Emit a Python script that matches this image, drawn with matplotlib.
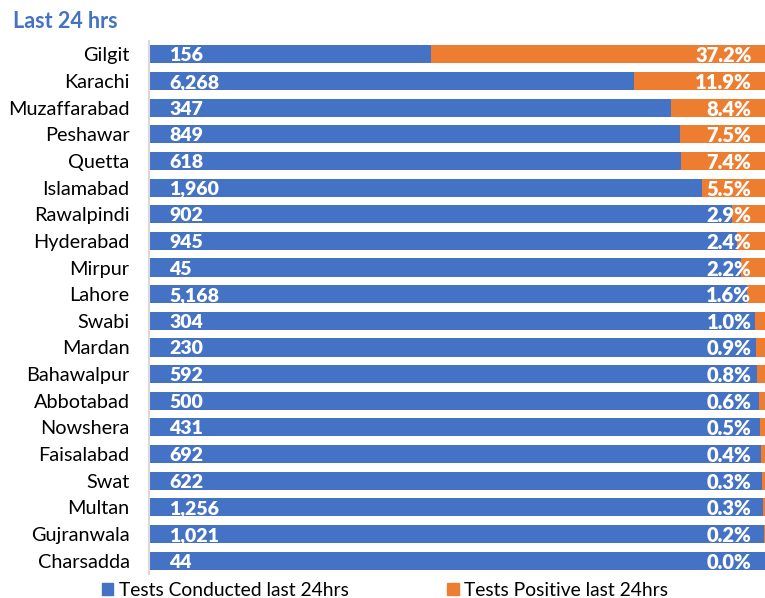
# -*- coding: utf-8 -*-
import matplotlib
matplotlib.use('Agg')
import matplotlib.pyplot as plt
from matplotlib.patches import Patch

### data
cities = ['Gilgit', 'Karachi', 'Muzaffarabad', 'Peshawar', 'Quetta',
          'Islamabad', 'Rawalpindi', 'Hyderabad', 'Mirpur', 'Lahore',
          'Swabi', 'Mardan', 'Bahawalpur', 'Abbotabad', 'Nowshera',
          'Faisalabad', 'Swat', 'Multan', 'Gujranwala', 'Charsadda']
tests = [156, 6268, 347, 849, 618, 1960, 902, 945, 45, 5168,
         304, 230, 592, 500, 431, 692, 622, 1256, 1021, 44]
pos_pct = [37.2, 11.9, 8.4, 7.5, 7.4, 5.5, 2.9, 2.4, 2.2, 1.6,
           1.0, 0.9, 0.8, 0.6, 0.5, 0.4, 0.3, 0.3, 0.2, 0.0]
# share of the bar length taken by the orange part (%), as drawn
pos_share = [54.2, 21.2, 15.3, 13.8, 13.6, 10.2, 5.4, 4.6, 3.9, 3.0,
             1.6, 1.5, 1.35, 1.0, 0.8, 0.6, 0.45, 0.3, 0.2, 0.0]

c_blue = '#4472C4'
c_orange = '#ED7D31'
font = 'Lato'

plt.rcParams['font.family'] = [font, 'DejaVu Sans']

W, H = 765, 598
fig = plt.figure(figsize=(W/100, H/100), dpi=100)
ax = fig.add_axes([149/W, (H-574)/H, (W-149)/W, (574-41)/H])

ypos = list(range(len(cities)))
neg_share = [100 - s for s in pos_share]
ax.barh(ypos, neg_share, height=0.68, color=c_blue, edgecolor='none')
ax.barh(ypos, pos_share, left=neg_share, height=0.68, color=c_orange,
        edgecolor='none')

### value labels inside the bars
for y, n, p in zip(ypos, tests, pos_pct):
    ax.text(3.3, y, f'{n:,}', color='white', fontsize=14,
            fontweight='heavy', ha='left', va='center_baseline')
    ax.text(97.8, y, f'{p:.1f}%', color='white', fontsize=14.5,
            fontweight='heavy', ha='right', va='center_baseline')

ax.set_xlim(0, 100)
ax.set_ylim(len(cities) - 0.5, -0.5)
ax.set_yticks(ypos)
ax.set_yticklabels(cities, fontsize=14.3)
ax.tick_params(axis='y', length=0, pad=14)
ax.tick_params(axis='x', bottom=False, labelbottom=False)
for s in ['top', 'right', 'bottom']:
    ax.spines[s].set_visible(False)
ax.spines['left'].set_color('#D9D9D9')
ax.spines['left'].set_linewidth(1.5)

fig.text(13/W, 1 - 22/H, 'Last 24 hrs', color=c_blue, fontsize=15.5,
         fontweight='bold', ha='left', va='center')

handles = [Patch(color=c_blue, label='Tests Conducted last 24hrs'),
           Patch(color=c_orange, label='Tests Positive last 24hrs')]
fig.legend(handles=handles, loc='center left', ncol=2,
           bbox_to_anchor=(102/W, 1 - 590/H), frameon=False, fontsize=13.9,
           handlelength=0.58, handleheight=0.58, handletextpad=0.3,
           columnspacing=5.1, borderpad=0, borderaxespad=0)

fig.savefig('out.png', dpi=100)
